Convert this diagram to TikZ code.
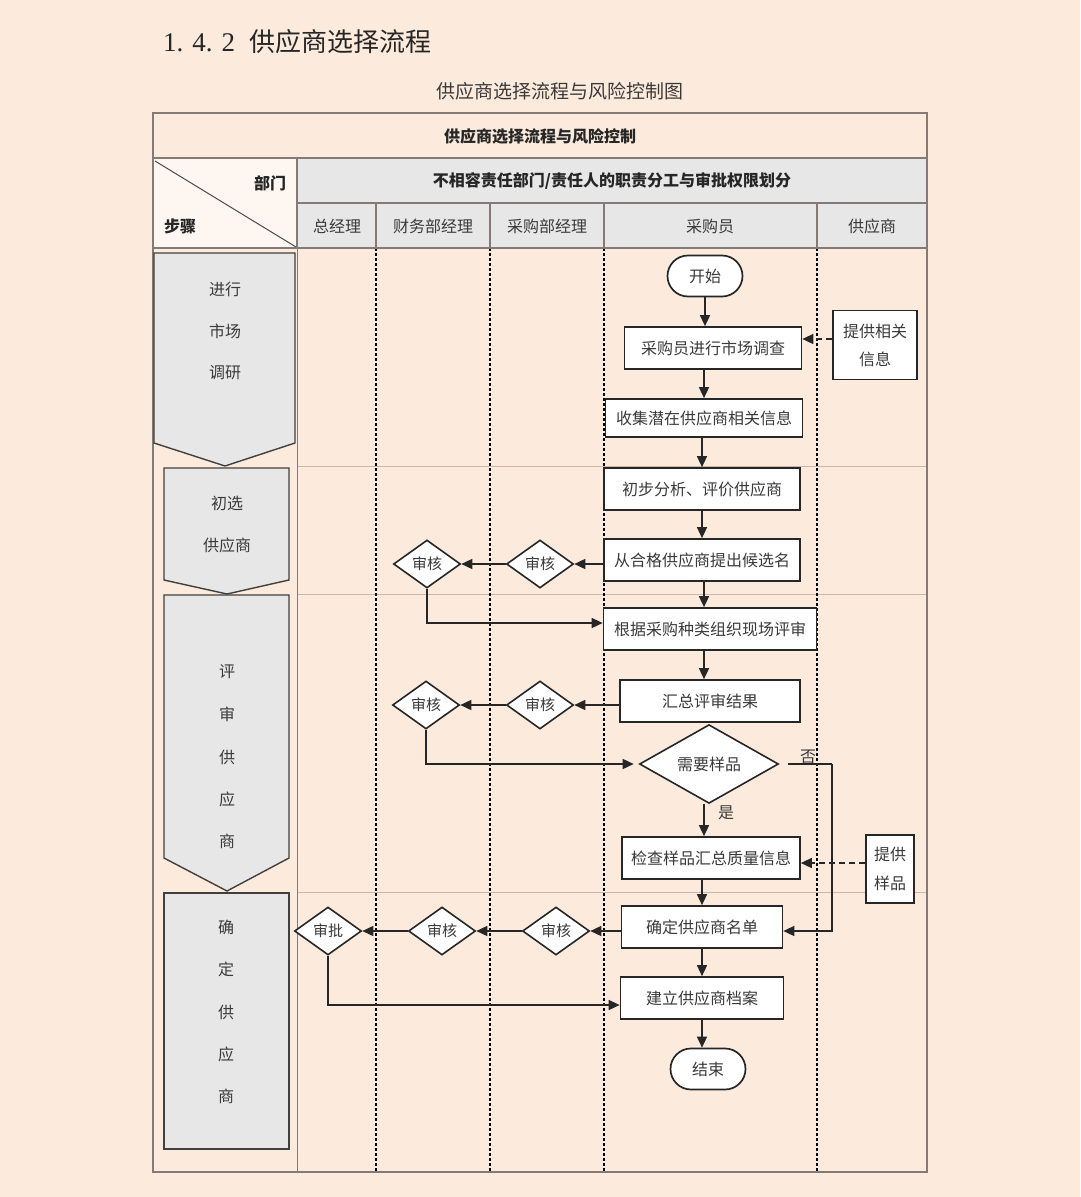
\documentclass[tikz,border=0pt]{standalone}
\usepackage{fontspec}
\setmainfont{Noto Sans CJK SC}
\newfontfamily\numfont{Liberation Serif}
\usetikzlibrary{shapes.geometric,arrows.meta,calc}
\definecolor{bgc}{HTML}{FCEADC}
\definecolor{hdr}{HTML}{E7E7E7}
\definecolor{tline}{HTML}{857A75}
\definecolor{sepl}{HTML}{CDB5A8}
\definecolor{ink}{HTML}{262626}
\definecolor{txt}{HTML}{3A3A3A}
\tikzset{
  f16/.style={font=\fontsize{16}{19}\selectfont},
  box/.style={draw=ink, line width=1.7, fill=white, minimum height=42, inner sep=0, text=txt, f16},
  term/.style={draw=ink, line width=1.7, fill=white, rounded corners=20.5, minimum width=75, minimum height=41, inner sep=0, text=txt, f16},
  dia/.style={diamond, draw=ink, line width=1.6, fill=white, minimum width=67, minimum height=48, inner sep=0, text=txt, font=\fontsize{15}{18}\selectfont},
  bigdia/.style={diamond, draw=ink, line width=1.6, fill=white, minimum width=139, minimum height=55, inner sep=0, text=txt, f16},
  arr/.style={draw=ink, line width=1.5, -{Triangle[length=11pt,width=10pt]}},
  darr/.style={arr, dash pattern=on 6pt off 4pt},
  stepshape/.style={draw=black!75, line width=1.4, fill=hdr},
  steptxt/.style={text=txt, f16},
  hdrtxt/.style={text=txt, f16},
  lane/.style={draw=black, line width=2.6, dash pattern=on 2.6pt off 2.4pt},
  sep/.style={draw=sepl, line width=1},
  tbl/.style={draw=tline, line width=1.7},
}
\begin{document}
\begin{tikzpicture}[x=1pt,y=-1pt]
\useasboundingbox (0,0) rectangle (1080,1197);
\fill[bgc] (0,0) rectangle (1080,1197);

% titles
\node[anchor=west, inner sep=0, text=black!85] (ttl) at (163,42) {{\numfont\fontsize{27}{30}\selectfont 1. 4. 2}\hspace{14pt}{\fontsize{26}{30}\selectfont 供应商选择流程}};
\node[inner sep=0, text=txt, font=\fontsize{19}{22}\selectfont] (cap) at (560,91) {供应商选择流程与风险控制图};

% header fills
\fill[hdr] (297,158) rectangle (927,248);
\fill[white!60!bgc] (153,158) rectangle (297,248);

% body separators
\draw[sep] (297,466) -- (927,466);
\draw[sep] (297,594) -- (927,594);
\draw[sep] (297,892) -- (927,892);

% lanes
\foreach \x in {376,490,604,817} \draw[lane] (\x,248) -- (\x,1172);
\draw[draw=tline, line width=1] (297,248) -- (297,1172);

% header lines
\draw[tbl] (153,158) -- (927,158);
\draw[tbl] (297,203) -- (927,203);
\draw[tbl] (153,248) -- (927,248);
\draw[tbl] (297,158) -- (297,248);
\foreach \x in {376,490,604,817} \draw[tbl] (\x,203) -- (\x,248);
\draw[draw=black!70, line width=1] (155,161) -- (296,247);
\draw[tbl] (153,113) rectangle (927,1172);

% header texts
\node[text=black!85, font=\fontsize{16}{19}\selectfont\bfseries] (htitle) at (540,136) {供应商选择流程与风险控制};
\node[text=black!85, font=\fontsize{16}{19}\selectfont\bfseries] (hmain) at (612,181) {不相容责任部门/责任人的职责分工与审批权限划分};
\node[text=black!85, font=\fontsize{16}{19}\selectfont\bfseries] (hdept) at (270,183) {部门};
\node[text=black!85, font=\fontsize{16}{19}\selectfont\bfseries] (hstep) at (180,226) {步骤};
\node[hdrtxt] (c1) at (337,226) {总经理};
\node[hdrtxt] (c2) at (433,226) {财务部经理};
\node[hdrtxt] (c3) at (547,226) {采购部经理};
\node[hdrtxt] (c4) at (710,226) {采购员};
\node[hdrtxt] (c5) at (872,226) {供应商};

% step shapes
\draw[stepshape] (154,253) -- (295,253) -- (295,443) -- (225,466) -- (154,443) -- cycle;
\draw[stepshape] (164,468) -- (289,468) -- (289,580) -- (227,594) -- (164,580) -- cycle;
\draw[stepshape] (164,595) -- (289,595) -- (289,858) -- (227,891) -- (164,858) -- cycle;
\draw[stepshape] (164,893) rectangle (289,1149);
\node[steptxt] (s1a) at (225,289) {进行};
\node[steptxt] (s1b) at (225,331) {市场};
\node[steptxt] (s1c) at (225,373) {调研};
\node[steptxt] (s2a) at (227,503) {初选};
\node[steptxt] (s2b) at (227,545) {供应商};
\node[steptxt] (s3a) at (227,672) {评};
\node[steptxt] (s3b) at (227,714) {审};
\node[steptxt] (s3c) at (227,757) {供};
\node[steptxt] (s3d) at (227,799) {应};
\node[steptxt] (s3e) at (227,841) {商};
\node[steptxt] (s4a) at (226,927) {确};
\node[steptxt] (s4b) at (226,969) {定};
\node[steptxt] (s4c) at (226,1012) {供};
\node[steptxt] (s4d) at (226,1054) {应};
\node[steptxt] (s4e) at (226,1096) {商};

% flow nodes
\node[term] (start) at (705,276) {开始};
\node[box, minimum width=177] (b1) at (713,348) {采购员进行市场调查};
\node[box, minimum width=84, minimum height=69, align=center, font=\fontsize{16}{28}\selectfont] (sp1) at (875,345) {提供相关\\信息};
\node[box, minimum width=197, minimum height=38] (b2) at (704,418) {收集潜在供应商相关信息};
\node[box, minimum width=196] (b3) at (702,489) {初步分析、评价供应商};
\node[box, minimum width=196] (b4) at (702,560) {从合格供应商提出候选名};
\node[dia] (d1) at (540,564) {审核};
\node[dia] (d2) at (427,564) {审核};
\node[box, minimum width=213] (b5) at (710,629) {根据采购种类组织现场评审};
\node[box, minimum width=180] (b6) at (710,701) {汇总评审结果};
\node[dia] (d3) at (540,705) {审核};
\node[dia] (d4) at (426,705) {审核};
\node[bigdia] (q) at (709,764) {需要样品};
\node[box, minimum width=178] (b7) at (711,858) {检查样品汇总质量信息};
\node[box, minimum width=48, minimum height=68, align=center, font=\fontsize{16}{29}\selectfont] (sp2) at (890,869) {提供\\样品};
\node[box, minimum width=161] (b8) at (702,927) {确定供应商名单};
\node[dia] (d5) at (556,931) {审核};
\node[dia] (d6) at (442,931) {审核};
\node[dia] (d7) at (328,931) {审批};
\node[box, minimum width=163] (b9) at (702,998) {建立供应商档案};
\node[term] (end) at (708,1069) {结束};
\node[text=txt, f16] (yes) at (726,813) {是};
\node[text=txt, f16] (no) at (808,757) {否};
\coordinate (qno) at (832,764);

% connectors
\draw[arr] (start.south) -- (start.south |- b1.north);
\draw[darr] ([yshift=6pt]sp1.west) -- ([yshift=6pt]sp1.west -| b1.east);
\draw[arr] (b1.south -| b2.north) -- (b2.north);
\draw[arr] (b2.south -| b3.north) -- (b3.north);
\draw[arr] (b3) -- (b4);
\draw[arr] ([xshift=2pt]b4.south) -- ([xshift=2pt]b4.south |- b5.north);
\draw[arr] (b4.west |- d1.east) -- (d1.east);
\draw[arr] (d1.west) -- (d2.east);
\draw[arr] (d2.south) |- ([yshift=6pt]b5.west);
\draw[arr] ([xshift=2pt]b4.south |- b5.south) -- ([xshift=2pt]b4.south |- b6.north);
\draw[arr] (b6.west |- d3.east) -- (d3.east);
\draw[arr] (d3.west) -- (d4.east);
\draw[arr] (d4.south) |- ([xshift=-5pt]q.west);
\draw[arr] ([xshift=-5pt]q.south) -- ([xshift=-5pt]q.south |- b7.north);
\draw[draw=ink, line width=1.5] ([xshift=9pt]q.east) -- (qno);
\draw[arr] (qno) |- ([yshift=-4pt]b8.east);
\draw[darr] ([yshift=6pt]sp2.west) -- ([yshift=6pt]sp2.west -| b7.east);
\draw[arr] (b7.south -| b8.north) -- (b8.north);
\draw[arr] (b8.west |- d5.east) -- (d5.east);
\draw[arr] (d5.west) -- (d6.east);
\draw[arr] (d6.west) -- (d7.east);
\draw[arr] (b8) -- (b9);
\draw[arr] (d7.south) |- ([yshift=-7pt]b9.west);
\draw[arr] (b9.south) -- (b9.south |- end.north);
\end{tikzpicture}
\end{document}
